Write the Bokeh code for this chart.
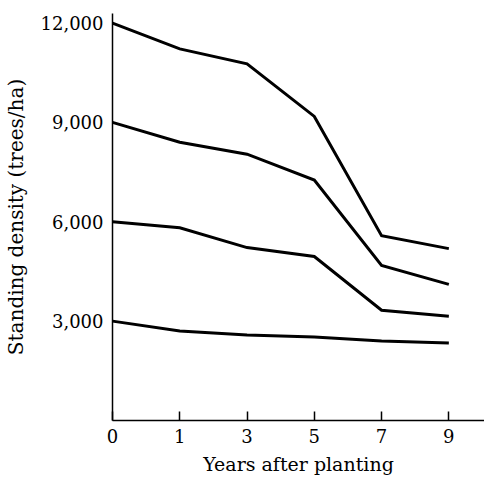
from bokeh.plotting import figure
from bokeh.models import Range1d, FixedTicker, NumeralTickFormatter
from bokeh.embed import file_html
from bokeh.resources import INLINE

years = [0, 1, 3, 5, 7, 9]
density_12000 = [12000, 11220, 10770, 9180, 5580, 5190]
density_9000 = [9000, 8400, 8040, 7260, 4680, 4110]
density_6000 = [6000, 5820, 5220, 4950, 3330, 3150]
density_3000 = [3000, 2700, 2580, 2520, 2400, 2340]
y_ticks = [3000, 6000, 9000, 12000]

x_pos = list(range(len(years)))

p = figure(width=484, height=477, output_backend="svg", toolbar_location=None,
           x_range=Range1d(0, 5.53), y_range=Range1d(0, 12288),
           min_border_left=110, min_border_right=0, min_border_top=13,
           min_border_bottom=55)
p.outline_line_color = None
p.grid.visible = False
p.background_fill_color = "white"
p.border_fill_color = "white"

for series in [density_12000, density_9000, density_6000, density_3000]:
    p.line(x_pos, series, line_color="black", line_width=3, line_join="miter")

font = "DejaVu Serif"
xa = p.xaxis[0]
xa.ticker = FixedTicker(ticks=x_pos)
xa.major_label_overrides = {i: str(y) for i, y in zip(x_pos, years)}
xa.major_tick_in = 9
xa.major_tick_out = 0
xa.minor_tick_line_color = None
xa.axis_line_width = 1.5
xa.major_tick_line_width = 1.5
xa.major_label_text_font = font
xa.major_label_text_font_size = "18px"
xa.major_label_text_color = "black"
xa.major_label_standoff = 8
xa.axis_label = "Years after planting"
xa.axis_label_text_font = font
xa.axis_label_text_font_size = "19px"
xa.axis_label_text_font_style = "normal"
xa.axis_label_text_color = "black"
xa.axis_label_standoff = 7

ya = p.yaxis[0]
ya.ticker = FixedTicker(ticks=y_ticks)
ya.formatter = NumeralTickFormatter(format="0,0")
ya.major_tick_in = 0
ya.major_tick_out = 0
ya.minor_tick_line_color = None
ya.axis_line_width = 1.5
ya.major_label_text_font = font
ya.major_label_text_font_size = "18px"
ya.major_label_text_color = "black"
ya.major_label_standoff = 9
ya.axis_label = "Standing density (trees/ha)"
ya.axis_label_text_font = font
ya.axis_label_text_font_size = "20px"
ya.axis_label_text_font_style = "normal"
ya.axis_label_text_color = "black"
ya.axis_label_standoff = 10

open("out.html", "w").write(file_html(p, INLINE))
